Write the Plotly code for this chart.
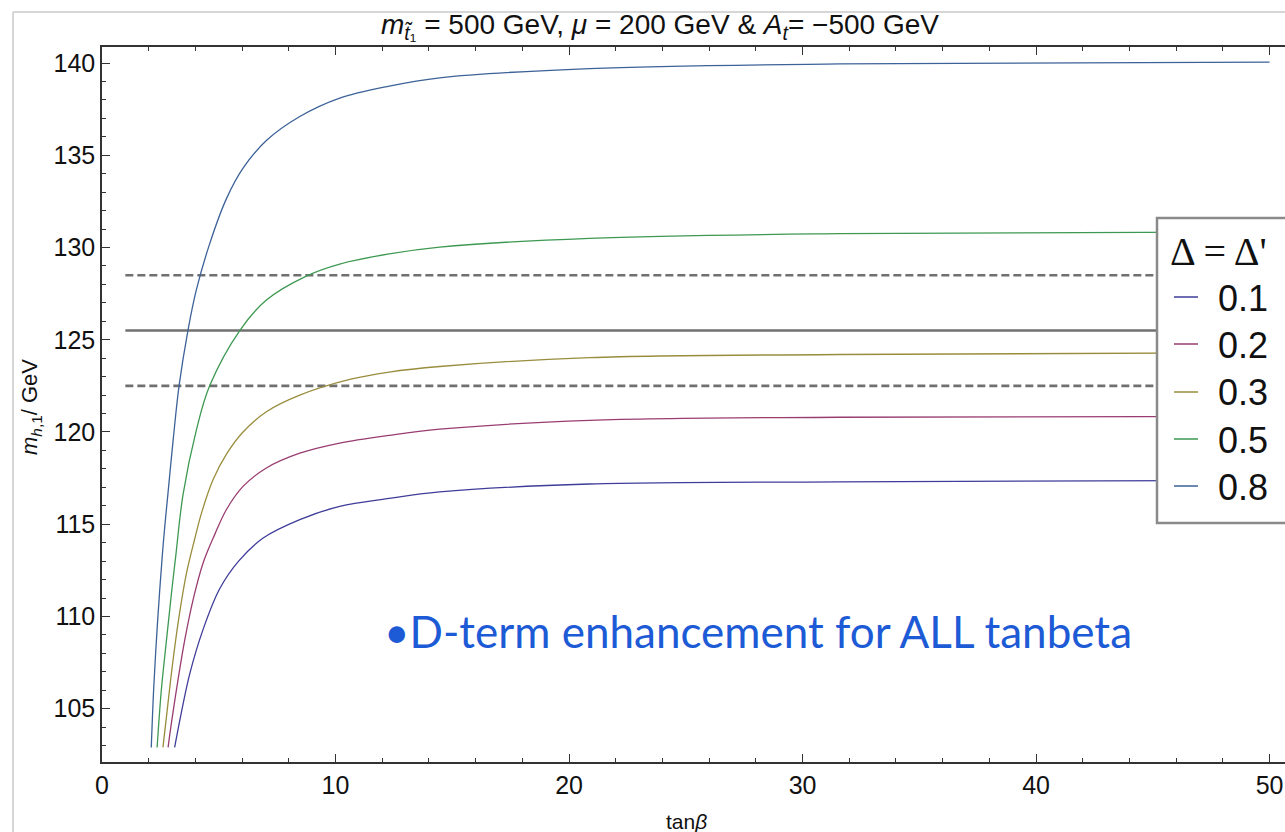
import plotly.graph_objects as go

# tanβ scan, light Higgs mass m_h1 for several Δ = Δ' values
delta_labels = ["0.1", "0.2", "0.3", "0.5", "0.8"]

tanb_01 = [3.11, 3.40, 3.76, 4.33, 5.04, 5.85, 6.90, 8.47, 10.18, 12.3, 14.46, 20.88, 31.59, 50.0]
mh_01 = [102.9, 104.8, 106.9, 109.3, 111.5, 113.0, 114.25, 115.25, 115.97, 116.4, 116.75, 117.18, 117.3, 117.38]

tanb_02 = [2.83, 2.97, 3.26, 3.54, 3.90, 4.33, 4.83, 5.33, 6.04, 7.04, 8.47, 10.18, 12.3, 14.46, 20.88, 31.59, 50.0]
mh_02 = [102.9, 104.2, 106.6, 108.7, 110.9, 112.9, 114.45, 115.8, 117.05, 118.05, 118.85, 119.4, 119.82, 120.15, 120.63, 120.8, 120.85]

tanb_03 = [2.61, 2.80, 3.00, 3.30, 3.61, 3.97, 4.26, 4.75, 5.33, 6.04, 7.04, 8.47, 10.61, 12.3, 14.46, 20.88, 31.59, 50.0]
mh_03 = [102.9, 105.0, 107.2, 110.0, 112.3, 114.2, 115.6, 117.4, 118.8, 120.0, 121.1, 122.0, 122.85, 123.25, 123.55, 124.03, 124.2, 124.3]

tanb_05 = [2.36, 2.54, 2.76, 2.97, 3.16, 3.47, 4.04, 4.61, 5.90, 7.04, 8.75, 10.18, 12.3, 14.46, 20.88, 31.59, 50.0]
mh_05 = [102.9, 106.0, 108.7, 111.2, 113.3, 116.6, 120.1, 122.5, 125.5, 127.15, 128.45, 129.1, 129.65, 130.02, 130.5, 130.75, 130.85]

tanb_08 = [2.11, 2.21, 2.33, 2.47, 2.64, 2.85, 3.05, 3.30, 3.68, 4.04, 4.61, 5.33, 6.04, 7.04, 8.47, 10.18, 12.3, 14.46, 20.88, 31.59, 50.0]
mh_08 = [102.9, 106.0, 108.7, 111.4, 114.2, 117.0, 119.6, 122.5, 125.5, 127.7, 130.2, 132.65, 134.3, 135.8, 137.1, 138.1, 138.75, 139.2, 139.7, 139.95, 140.05]

# measured Higgs mass band: central value and ±3 GeV
band_x = [1.0, 50.0]
mh_central = 125.5
mh_band = [122.5, 128.5]

x_ticks = [0, 10, 20, 30, 40, 50]
y_ticks = [105, 110, 115, 120, 125, 130, 135, 140]

colors = ["#3F3D99", "#993D71", "#998D3D", "#3D9951", "#3D6299"]
series = [(tanb_01, mh_01), (tanb_02, mh_02), (tanb_03, mh_03), (tanb_05, mh_05), (tanb_08, mh_08)]

fig = go.Figure()

# reference lines
fig.add_trace(go.Scatter(x=band_x, y=[mh_central, mh_central], mode="lines",
                         line=dict(color="#707070", width=2.6), showlegend=False,
                         hoverinfo="skip"))
for v in mh_band:
    fig.add_trace(go.Scatter(x=band_x, y=[v, v], mode="lines",
                             line=dict(color="#707070", width=2.6, dash="8px,4px"),
                             showlegend=False, hoverinfo="skip"))

for (xs, ys), col, lab in zip(series, colors, delta_labels):
    fig.add_trace(go.Scatter(x=xs, y=ys, mode="lines", name=lab, showlegend=False,
                             line=dict(color=col, width=1.3, shape="spline", smoothing=1.0)))

W, H = 1285, 832
L, T, B = 102, 47, 70
pw = W - L
ph = H - T - B


def px_x(p):
    return (p - L) / pw


def px_y(p):
    return (H - B - p) / ph


axis_common = dict(showgrid=False, zeroline=False, showline=True, linecolor="#333333",
                   linewidth=1.5, ticks="inside", tickcolor="#333333", tickwidth=1.3,
                   ticklen=8, tickfont=dict(family="Liberation Sans, Arial", size=25, color="#111111"))

fig.update_xaxes(range=[0, 50.66], tickvals=x_ticks, mirror="ticks",
                 minor=dict(dtick=2, ticklen=4, ticks="inside", tickcolor="#333333", tickwidth=1.2),
                 **axis_common)
fig.update_yaxes(range=[102.11, 140.87], tickvals=y_ticks, mirror=False,
                 minor=dict(dtick=1, ticklen=4, ticks="inside", tickcolor="#333333", tickwidth=1.2),
                 **axis_common)

fig.update_layout(
    width=W, height=H,
    margin=dict(l=L, r=0, t=T, b=B),
    plot_bgcolor="white", paper_bgcolor="white",
    title=dict(text="<i>m</i><sub><i>t̃</i>₁</sub> = 500 GeV, <i>μ</i> = 200 GeV &amp; <i>A</i><sub><i>t</i></sub>= −500 GeV",
               x=660 / W, xref="container", xanchor="center",
               y=1 - 24 / H, yref="container", yanchor="middle",
               font=dict(family="Liberation Sans, Arial", size=28, color="#111111")),
    showlegend=False,
)

fig.add_annotation(text="<i>m</i><sub><i>h</i>,1</sub>/ GeV", textangle=-90,
                   x=px_x(31), y=px_y(407), xref="paper", yref="paper",
                   xanchor="center", yanchor="middle",
                   showarrow=False, font=dict(family="Liberation Sans, Arial", size=22, color="#111111"))
fig.add_annotation(text="tan<i>β</i>",
                   x=px_x(686), y=px_y(821), xref="paper", yref="paper",
                   xanchor="center", yanchor="middle",
                   showarrow=False, font=dict(family="Liberation Sans, Arial", size=21, color="#111111"))
fig.add_annotation(text="•D-term enhancement for ALL tanbeta",
                   x=12.0, y=109.2, xref="x", yref="y", xanchor="left", yanchor="middle",
                   showarrow=False, font=dict(family="Lato", size=44, color="#1d5ad6"))

# legend box (Δ = Δ')
fig.add_shape(type="rect", xref="paper", yref="paper", layer="above",
              x0=px_x(1157), x1=px_x(1300), y0=px_y(523), y1=px_y(218),
              line=dict(color="#8a8a8a", width=2.5), fillcolor="white")
fig.add_annotation(text="Δ = Δ'", x=px_x(1168), y=px_y(252), xref="paper", yref="paper",
                   xanchor="left", yanchor="middle", showarrow=False,
                   font=dict(family="Liberation Serif, Times New Roman", size=40, color="#111111"))
legend_rows = [297, 344, 392, 439, 486]
for lab, col, yrow in zip(delta_labels, colors, legend_rows):
    fig.add_shape(type="line", xref="paper", yref="paper", layer="above",
                  x0=px_x(1174), x1=px_x(1198), y0=px_y(yrow), y1=px_y(yrow),
                  line=dict(color=col, width=1.5))
    fig.add_annotation(text=lab, x=px_x(1216), y=px_y(yrow + 1), xref="paper", yref="paper",
                       xanchor="left", yanchor="middle", showarrow=False,
                       font=dict(family="Liberation Sans, Arial", size=36, color="#111111"))

# slide frame edges
fig.add_shape(type="line", xref="paper", yref="paper",
              x0=px_x(13), x1=px_x(13), y0=px_y(12), y1=px_y(H),
              line=dict(color="#d6d6d6", width=2))
fig.add_shape(type="line", xref="paper", yref="paper",
              x0=px_x(13), x1=1.0, y0=px_y(12), y1=px_y(12),
              line=dict(color="#d6d6d6", width=2))

fig.write_html("out.html")
